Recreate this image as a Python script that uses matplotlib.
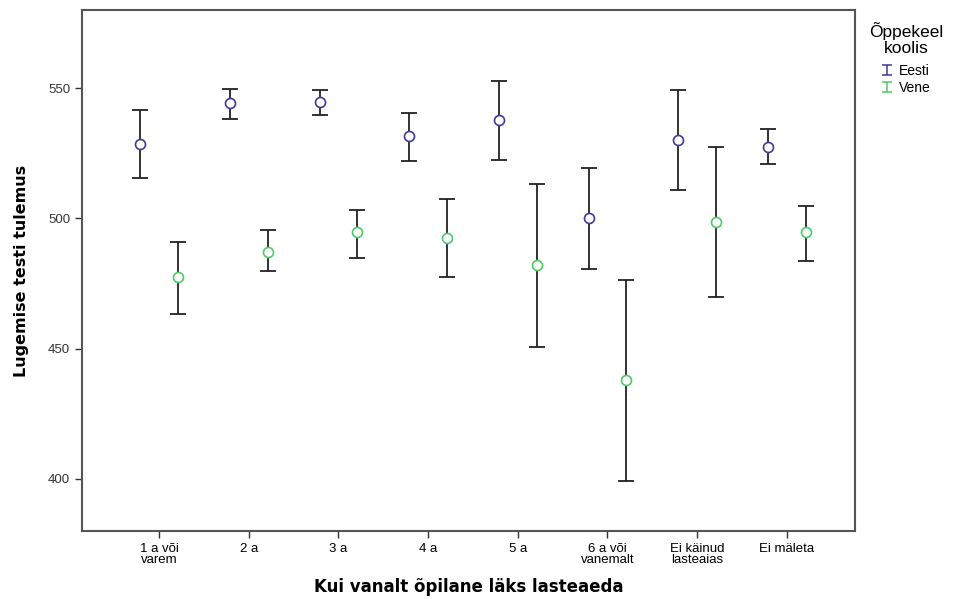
import numpy as np
import matplotlib
matplotlib.use("Agg")
import matplotlib.pyplot as plt
from matplotlib.path import Path
from matplotlib.lines import Line2D

# ---- data: group means with 95% CI bounds ----
CATS = ["1 a või\nvarem", "2 a", "3 a", "4 a", "5 a",
        "6 a või\nvanemalt", "Ei käinud\nlasteaias", "Ei mäleta"]
EESTI_MEAN = [528.5, 544.2, 544.6, 531.6, 537.7, 500.1, 530.1, 527.4]
EESTI_LO = [515.5, 538.1, 539.6, 522.0, 522.4, 480.6, 510.9, 520.8]
EESTI_HI = [541.6, 549.6, 549.2, 540.4, 552.7, 519.3, 549.2, 534.3]
VENE_MEAN = [477.5, 487.1, 494.8, 492.5, 482.1, 438.0, 498.6, 494.6]
VENE_LO = [463.3, 479.8, 484.8, 477.5, 450.7, 399.3, 469.8, 483.6]
VENE_HI = [490.9, 495.5, 503.2, 507.4, 513.2, 476.4, 527.4, 504.7]
YTICKS = [400, 450, 500, 550]

BLUE = "#3c3c9a"
GREEN = "#4ccc66"
AXC = "#555555"

plt.rcParams["font.family"] = ["Liberation Sans", "DejaVu Sans"]

fig = plt.figure(figsize=(9.55, 5.99), dpi=100)
ax = fig.add_axes([82 / 955, 1 - 531 / 599, (855 - 82) / 955, (531 - 10) / 599])

x = np.arange(len(CATS))
OFF = 0.21
for xs, m, lo, hi, col in [(x - OFF, EESTI_MEAN, EESTI_LO, EESTI_HI, BLUE),
                           (x + OFF, VENE_MEAN, VENE_LO, VENE_HI, GREEN)]:
    m, lo, hi = np.array(m), np.array(lo), np.array(hi)
    ax.errorbar(xs, m, yerr=[m - lo, hi - m], fmt="none", ecolor="#222222",
                elinewidth=1.3, capsize=5.5, capthick=1.3, zorder=2)
    ax.plot(xs, m, "o", ms=7.2, mfc="white", mec=col, mew=1.2, zorder=3)

ax.set_xlim(-0.86, 7.76)
ax.set_ylim(380, 580)
ax.set_xticks(x)
ax.set_xticklabels(CATS, fontsize=9.5, linespacing=0.95)
ax.set_yticks(YTICKS)
ax.tick_params(axis="y", labelsize=9.5, colors="#333333", length=5, width=1)
ax.tick_params(axis="x", colors="#333333", length=5, width=1, labelcolor="black")
for s in ax.spines.values():
    s.set_color(AXC)
    s.set_linewidth(1.5)

ax.set_ylabel("Lugemise testi tulemus", family="DejaVu Sans",
              fontweight="bold", fontsize=11.5)
ax.yaxis.set_label_coords(-0.068, 0.5)
ax.set_xlabel("Kui vanalt õpilane läks lasteaeda", family="DejaVu Sans",
              fontweight="bold", fontsize=12)
ax.xaxis.set_label_coords(0.5, -0.09)

# I-beam glyph for the legend entries
ibeam = Path([(-1, 1), (1, 1), (0, 1), (0, -1), (-1, -1), (1, -1)],
             [Path.MOVETO, Path.LINETO, Path.MOVETO, Path.LINETO,
              Path.MOVETO, Path.LINETO])
handles = [Line2D([], [], ls="none", marker=ibeam, ms=7, mew=1.1, color=BLUE),
           Line2D([], [], ls="none", marker=ibeam, ms=7, mew=1.1, color=GREEN)]
leg = fig.legend(handles, ["Eesti", "Vene"], title="Õppekeel\nkoolis",
                 loc="upper left", bbox_to_anchor=(859 / 955, 1 - 12 / 599),
                 frameon=False, fontsize=10, title_fontsize=12.5,
                 handlelength=0.8, handletextpad=0.5, labelspacing=0.2,
                 borderpad=0.2)
leg.get_title().set_multialignment("center")
leg.get_title().set_linespacing(1.1)
leg._legend_box.sep = 6

fig.savefig("out.png", dpi=100)
